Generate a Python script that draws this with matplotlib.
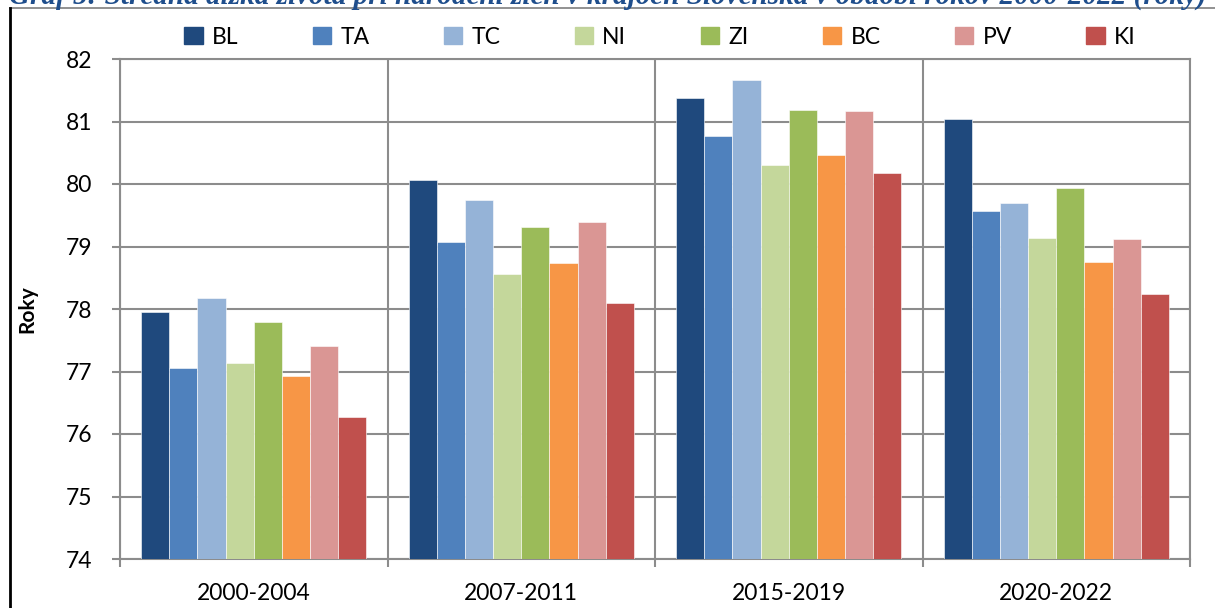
import matplotlib
matplotlib.use("Agg")
import matplotlib.pyplot as plt
import numpy as np
from matplotlib.lines import Line2D

# data
periods = ["2000-2004", "2007-2011", "2015-2019", "2020-2022"]
regions = ["BL", "TA", "TC", "NI", "ZI", "BC", "PV", "KI"]
bl = [77.95, 80.06, 81.38, 81.04]
ta = [77.05, 79.07, 80.77, 79.57]
tc = [78.17, 79.75, 81.67, 79.69]
ni = [77.14, 78.56, 80.30, 79.14]
zi = [77.79, 79.32, 81.18, 79.94]
bc = [76.93, 78.74, 80.47, 78.75]
pv = [77.41, 79.39, 81.17, 79.12]
ki = [76.27, 78.09, 80.18, 78.24]
series = [bl, ta, tc, ni, zi, bc, pv, ki]
yticks = [74, 75, 76, 77, 78, 79, 80, 81, 82]

colors = ['#1F497D', '#4F81BD', '#95B3D7', '#C4D79B', '#9BBB59', '#F79646', '#DA9694', '#C0504D']
grid_color = '#8C8C8C'
font = 'Lato'
fs = 16.5

fig = plt.figure(figsize=(12.15, 6.08), dpi=100, facecolor='white')
ax = fig.add_axes([120 / 1215, 1 - 559 / 608, 1070 / 1215, 500 / 608])

n = len(regions)
width = 1 / (n + 1.5)
x = np.arange(len(periods))
for i, (vals, col) in enumerate(zip(series, colors)):
    offs = (i - (n - 1) / 2) * width
    ax.bar(x + offs, np.array(vals) - 74, width, bottom=74, color=col,
           edgecolor='white', linewidth=0.4, label=regions[i], zorder=3)

ax.set_xlim(-0.5, len(periods) - 0.5)
ax.set_ylim(74, 82)
ax.set_yticks(yticks)
ax.set_xticks(x)
ax.set_xticklabels(periods, fontsize=fs, family=font)
ax.set_xticks(np.arange(-0.5, len(periods)), minor=True)
ax.tick_params(axis='x', which='major', length=0, pad=17)
ax.tick_params(axis='x', which='minor', length=6, width=1.5, color=grid_color, direction='out')
ax.tick_params(axis='y', length=6, width=1.5, color=grid_color, direction='out', pad=14)
for lab in ax.get_yticklabels():
    lab.set_fontsize(fs)
    lab.set_family(font)

ax.grid(True, axis='y', which='major', color=grid_color, linewidth=1.5, zorder=0)
ax.grid(True, axis='x', which='minor', color=grid_color, linewidth=1.5, zorder=0)
for sp in ax.spines.values():
    sp.set_color(grid_color)
    sp.set_linewidth(1.5)

ax.set_ylabel('Roky', fontsize=15, fontweight='bold', family=font, labelpad=20)

handles = [plt.Rectangle((0, 0), 1, 1, color=c) for c in colors]
fig.legend(handles, regions, loc='center', bbox_to_anchor=(660 / 1215, 1 - 37 / 608),
           ncol=n, frameon=False, prop={'family': font, 'size': fs},
           handlelength=0.8, handleheight=0.8, handletextpad=0.4, columnspacing=3.25)

# cut-off title and outer frame
fig.text(0.5, 1 - 4 / 608, "Graf 5: Stredná dĺžka života pri narodení žien v krajoch Slovenska v období rokov 2000-2022 (roky)",
         ha='center', va='baseline', fontsize=21, fontweight='bold', fontstyle='italic',
         family='Liberation Serif', color='#1F4E8C')
fig.add_artist(Line2D([10 / 1215, 1], [1 - 8 / 608, 1 - 8 / 608], color='#7F7F7F', lw=1.2, transform=fig.transFigure))
fig.add_artist(Line2D([10 / 1215, 10 / 1215], [0, 1 - 8 / 608], color='black', lw=2, transform=fig.transFigure))

fig.savefig('out.png', dpi=100, facecolor='white')
